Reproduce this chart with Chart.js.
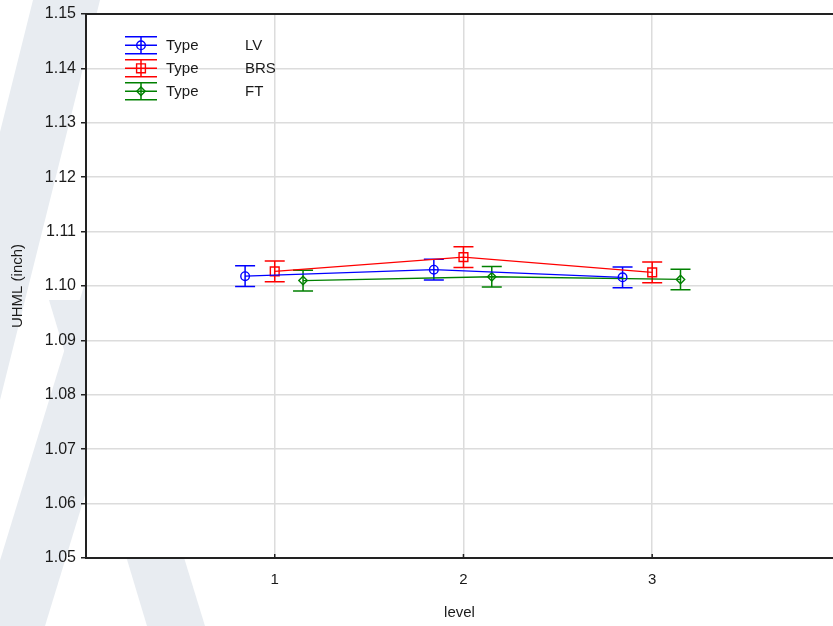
<!DOCTYPE html>
<html>
<head>
<meta charset="utf-8">
<script src="https://cdn.jsdelivr.net/npm/chart.js@4.4.1/dist/chart.umd.min.js"></script>
<style>
  html, body { margin: 0; padding: 0; background: #fff; }
  #wrap { width: 833px; height: 626px; }
</style>
</head>
<body>
<div id="wrap"><canvas id="uhmlChart" width="833" height="626"></canvas></div>
<script>
// --- data ---
const levels = [1, 2, 3];
const xTicks = [1, 2, 3];
const yTicks = [1.05, 1.06, 1.07, 1.08, 1.09, 1.10, 1.11, 1.12, 1.13, 1.14, 1.15];
const seriesNames = ['LV', 'BRS', 'FT'];
const legendPrefix = 'Type';

const lvMean  = [1.1018, 1.1030, 1.1016];
const lvErr   = [0.0019, 0.0019, 0.0019];
const brsMean = [1.1027, 1.1053, 1.1025];
const brsErr  = [0.0019, 0.0019, 0.0019];
const ftMean  = [1.1010, 1.1017, 1.1012];
const ftErr   = [0.0019, 0.0019, 0.0019];

// --- styling ---
const FONT = "'Liberation Sans', Arial, sans-serif";
const TEXT = '#1a1a1a';
const GRID = '#dcdcdc';
const AXIS = '#222222';
const dodge = { LV: -0.157, BRS: 0, FT: 0.15 };

const seriesDefs = [
    { name: 'LV',  mean: lvMean,  err: lvErr,  color: '#0000ff', style: 'circle',  radius: 4.3 },
    { name: 'BRS', mean: brsMean, err: brsErr, color: '#ff0000', style: 'rect',    radius: 6.2 },
    { name: 'FT',  mean: ftMean,  err: ftErr,  color: '#008000', style: 'rectRot', radius: 4.2 }
];

const datasets = seriesDefs.map(function (s) {
    return {
        label: s.name,
        data: levels.map(function (lv, i) {
            return { x: lv + dodge[s.name], y: s.mean[i], err: s.err[i] };
        }),
        borderColor: s.color,
        backgroundColor: 'rgba(0,0,0,0)',
        borderWidth: 1.3,
        tension: 0,
        pointStyle: s.style,
        pointRadius: s.radius,
        pointBorderWidth: 1.4,
        pointBorderColor: s.color,
        pointBackgroundColor: 'rgba(0,0,0,0)'
    };
});

// --- plugins ---
const backdrop = {
    id: 'backdrop',
    beforeDraw: function (chart) {
        const ctx = chart.ctx;
        const a = chart.chartArea;
        ctx.save();
        ctx.fillStyle = '#ffffff';
        ctx.fillRect(0, 0, chart.width, chart.height);
        // faint watermark bands behind the frame
        ctx.fillStyle = '#e8ecf1';
        const bands = [
            [[33, 0], [100, 0], [0, 400], [0, 132]],
            [[160, 250], [45, 626], [-20, 626], [95, 250]],
            [[49, 300], [105, 300], [205, 626], [147, 626]]
        ];
        bands.forEach(function (b) {
            ctx.beginPath();
            ctx.moveTo(b[0][0], b[0][1]);
            for (let i = 1; i < b.length; i++) ctx.lineTo(b[i][0], b[i][1]);
            ctx.closePath();
            ctx.fill();
        });
        ctx.fillStyle = '#ffffff';
        ctx.fillRect(a.left, a.top, a.right - a.left, a.bottom - a.top);
        ctx.restore();
    },
    afterDraw: function (chart) {
        const ctx = chart.ctx;
        const a = chart.chartArea;
        ctx.save();
        ctx.strokeStyle = AXIS;
        ctx.lineWidth = 2;
        ctx.beginPath();
        ctx.moveTo(a.left, a.top);
        ctx.lineTo(a.right, a.top);
        ctx.stroke();
        // small inward ticks on the level axis
        ctx.lineWidth = 1.5;
        chart.scales.x.ticks.forEach(function (t) {
            const px = chart.scales.x.getPixelForValue(t.value);
            ctx.beginPath();
            ctx.moveTo(px, a.bottom);
            ctx.lineTo(px, a.bottom - 4);
            ctx.stroke();
        });
        ctx.restore();
    }
};

const errorBars = {
    id: 'errorBars',
    beforeDatasetsDraw: function (chart) {
        const ctx = chart.ctx;
        const xs = chart.scales.x;
        const ys = chart.scales.y;
        ctx.save();
        ctx.lineWidth = 1.5;
        chart.data.datasets.forEach(function (ds) {
            ctx.strokeStyle = ds.borderColor;
            ds.data.forEach(function (p) {
                const px = xs.getPixelForValue(p.x);
                const top = ys.getPixelForValue(p.y + p.err);
                const bot = ys.getPixelForValue(p.y - p.err);
                ctx.beginPath();
                ctx.moveTo(px, top); ctx.lineTo(px, bot);
                ctx.moveTo(px - 10, top); ctx.lineTo(px + 10, top);
                ctx.moveTo(px - 10, bot); ctx.lineTo(px + 10, bot);
                ctx.stroke();
            });
        });
        ctx.restore();
    }
};

const boxLegend = {
    id: 'boxLegend',
    afterDraw: function (chart) {
        const ctx = chart.ctx;
        const a = chart.chartArea;
        const x0 = a.left + 39, x1 = a.left + 71;
        const cx = (x0 + x1) / 2;
        ctx.save();
        ctx.font = '15px ' + FONT;
        ctx.textBaseline = 'middle';
        seriesDefs.forEach(function (s, i) {
            const cy = a.top + 31.3 + i * 23;
            ctx.strokeStyle = s.color;
            ctx.lineWidth = 1.5;
            ctx.beginPath();
            ctx.moveTo(x0, cy); ctx.lineTo(x1, cy);
            ctx.moveTo(x0, cy - 8.5); ctx.lineTo(x1, cy - 8.5);
            ctx.moveTo(x0, cy + 8.5); ctx.lineTo(x1, cy + 8.5);
            ctx.moveTo(cx, cy - 8.5); ctx.lineTo(cx, cy + 8.5);
            ctx.stroke();
            ctx.lineWidth = 1.4;
            ctx.beginPath();
            if (s.style === 'circle') {
                ctx.arc(cx, cy, 4.3, 0, Math.PI * 2);
            } else if (s.style === 'rect') {
                ctx.rect(cx - 4.4, cy - 4.4, 8.8, 8.8);
            } else {
                ctx.moveTo(cx, cy - 4.2); ctx.lineTo(cx + 4.2, cy);
                ctx.lineTo(cx, cy + 4.2); ctx.lineTo(cx - 4.2, cy);
                ctx.closePath();
            }
            ctx.stroke();
            ctx.fillStyle = TEXT;
            ctx.fillText(legendPrefix, a.left + 80, cy + 1);
            ctx.fillText(seriesNames[i], a.left + 159, cy + 1);
        });
        ctx.restore();
    }
};

// --- chart ---
new Chart(document.getElementById('uhmlChart'), {
    type: 'line',
    data: { datasets: datasets },
    plugins: [backdrop, errorBars, boxLegend],
    options: {
        responsive: false,
        animation: false,
        layout: { autoPadding: false, padding: { top: 14, right: 0, bottom: 0, left: 0 } },
        plugins: {
            legend: { display: false },
            tooltip: { enabled: false }
        },
        scales: {
            x: {
                type: 'linear',
                min: 0,
                max: 3.958,
                afterBuildTicks: function (axis) {
                    axis.ticks = xTicks.map(function (v) { return { value: v }; });
                },
                afterFit: function (axis) {
                    axis.height = 68;
                    axis.paddingLeft = 0;
                    axis.paddingRight = 0;
                },
                ticks: {
                    color: TEXT,
                    font: { family: FONT, size: 15 },
                    padding: 13,
                    maxRotation: 0,
                    callback: function (v) { return String(v); }
                },
                grid: { color: GRID, lineWidth: 1.5, drawTicks: false },
                border: { color: AXIS, width: 2 },
                title: {
                    display: true,
                    text: 'level',
                    color: TEXT,
                    font: { family: FONT, size: 15 },
                    padding: { top: 0, bottom: 4 }
                }
            },
            y: {
                min: 1.05,
                max: 1.15,
                afterBuildTicks: function (axis) {
                    axis.ticks = yTicks.map(function (v) { return { value: v }; });
                },
                afterFit: function (axis) {
                    axis.width = 86;
                    axis.paddingTop = 0;
                    axis.paddingBottom = 0;
                },
                ticks: {
                    color: TEXT,
                    font: { family: FONT, size: 16 },
                    padding: 5,
                    callback: function (v) { return Number(v).toFixed(2); }
                },
                grid: { color: GRID, lineWidth: 1.5, tickLength: 5, tickColor: AXIS, tickWidth: 1.5 },
                border: { color: AXIS, width: 2 },
                title: {
                    display: true,
                    text: 'UHML (inch)',
                    color: TEXT,
                    font: { family: FONT, size: 15 },
                    padding: { top: 9, bottom: 0 }
                }
            }
        }
    }
});
</script>
</body>
</html>
